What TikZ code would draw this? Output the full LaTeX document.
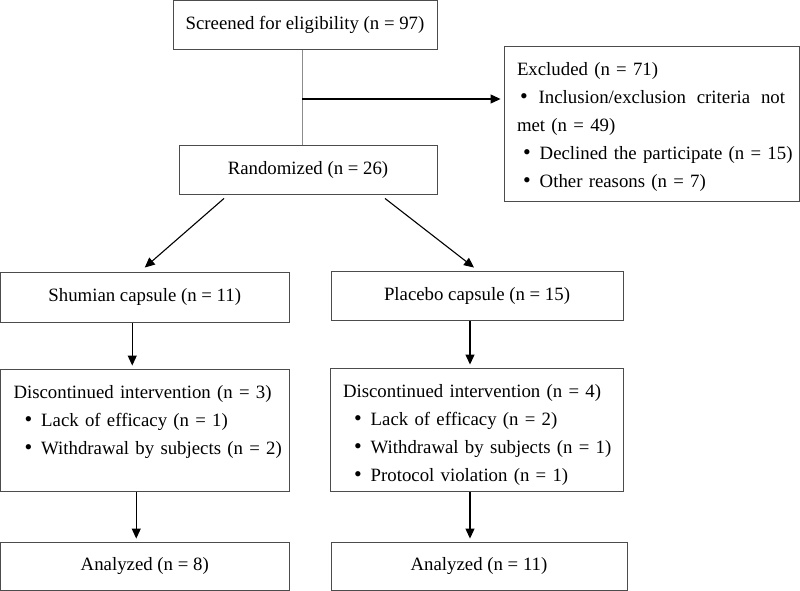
\documentclass[tikz,border=0pt]{standalone}
\usepackage{fontspec}
\setmainfont{Liberation Serif}
\usetikzlibrary{arrows.meta}

% bullet and bullet line inside a box
\newcommand{\bul}{{\fontsize{22}{28}\selectfont\textbullet}}
\newcommand{\itm}[2][11pt]{\mbox{\hspace*{#1}\bul\hspace{9pt}#2}}

\begin{document}
\begin{tikzpicture}[
	x=1pt, y=-1pt,
	font=\fontsize{18.8}{28}\selectfont,
	box/.style={rectangle, draw=black!70, line width=0.9pt, inner sep=0pt, align=center},
	listbox/.style={rectangle, draw=black!70, line width=0.9pt, inner xsep=13pt, inner ysep=0pt, align=left, text height=23pt},
	connection/.style={-{Triangle[length=10pt,width=9pt]}, line width=1.1pt, shorten >=3pt}
	]
	\useasboundingbox (0,0) rectangle (800,591);
	
	% Enrollment
	\node[box, minimum width=264pt, minimum height=49pt] (screen) at (305,25) {Screened for eligibility (n = 97)};
	\node[box, minimum width=258pt, minimum height=49pt] (rand) at (308,169.5) {Randomized (n = 26)};
	\node[listbox, minimum width=295pt, minimum height=155pt, text width=269pt, text height=20pt] (excl) at (651.5,124) {Excluded (n = 71)\\
		\makebox[268pt][l]{\hspace*{3pt}\bul\hspace{11pt}Inclusion/exclusion\hfill criteria\hfill not}\\
		met (n = 49)\\
		\itm[6pt]{Declined the participate (n = 15)}\\
		\itm[6pt]{Other reasons (n = 7)}};
	
	% Allocation
	\node[box, minimum width=288.5pt, minimum height=50pt] (shum) at (144.75,297) {Shumian capsule (n = 11)};
	\node[box, minimum width=292pt, minimum height=49pt] (plac) at (477,295.5) {Placebo capsule (n = 15)};
	
	% Follow-up
	\node[listbox, minimum width=288.5pt, minimum height=122pt, text width=262.5pt] (discL) at (144.75,430) {\mbox{Discontinued intervention (n = 3)}\\
		\itm{Lack of efficacy (n = 1)}\\
		\itm{Withdrawal by subjects (n = 2)}\\[2pt]
		\mbox{}};
	\node[listbox, minimum width=293pt, minimum height=123pt, text width=267pt] (discR) at (476.5,429.5) {\mbox{Discontinued intervention (n = 4)}\\
		\itm{Lack of efficacy (n = 2)}\\
		\itm{Withdrawal by subjects (n = 1)}\\
		\itm{Protocol violation (n = 1)}};
	
	% Analysis
	\node[box, minimum width=288.5pt, minimum height=48pt] (analL) at (144.75,566) {Analyzed (n = 8)};
	\node[box, minimum width=296pt, minimum height=48pt] (analR) at (479,566) {Analyzed (n = 11)};
	
	% Connections: screening to randomization and exclusion
	\coordinate (split) at (302,99);
	\draw[black!45, line width=1pt] (screen.south -| split) -- (rand.north -| split);
	\draw[connection] (split) -- (split -| excl.west);
	
	% Connections: randomization to the two arms
	\draw[connection, shorten >=0pt] ([xshift=-84pt,yshift=-4pt]rand.south) -- ([yshift=4pt]shum.north);
	\draw[connection, shorten >=0pt] ([xshift=77pt,yshift=-4pt]rand.south) -- ([xshift=-3pt,yshift=3pt]plac.north);
	
	% Connections: down each arm
	\foreach \from/\to/\dx in {shum/discL/-12.5, plac/discR/-7, discL/analL/-8.5, discR/analR/-6.5} {
		\coordinate (s) at ([xshift=\dx pt, yshift=-1pt]\from.south);
		\draw[connection] (s) -- (s |- \to.north);
	}
	
\end{tikzpicture}
\end{document}
